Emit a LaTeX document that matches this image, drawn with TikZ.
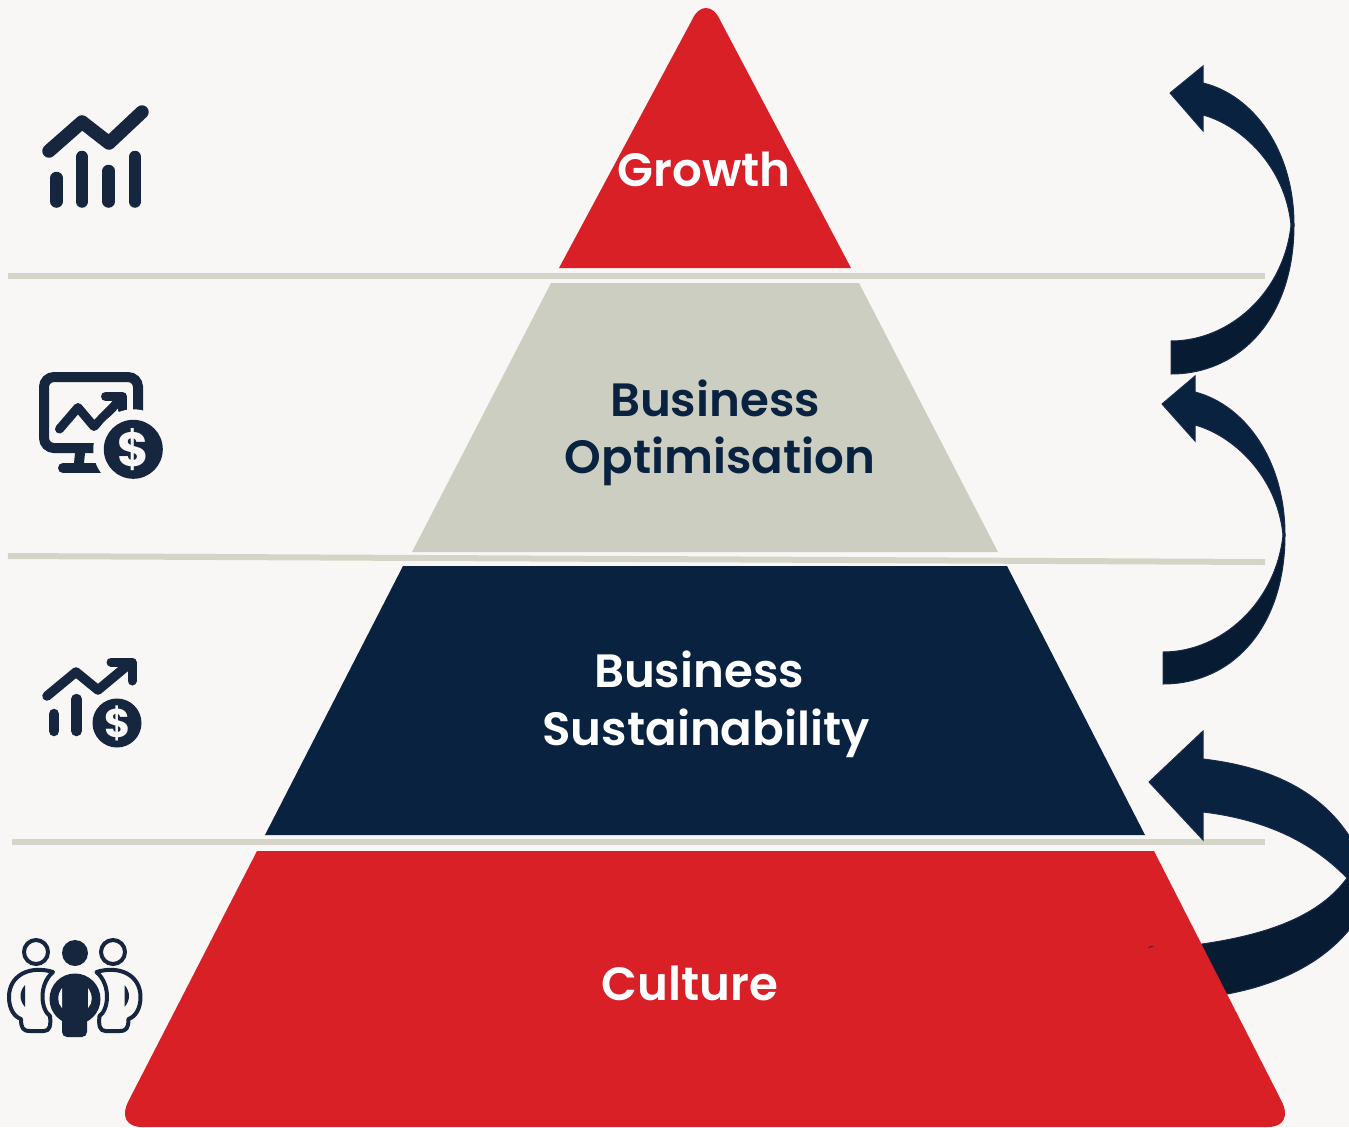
\documentclass[tikz,border=0pt]{standalone}
\usepackage{fontspec}
\setmainfont{Poppins}
\newfontfamily\labelfont{Poppins SemiBold}
\definecolor{bgc}{HTML}{F9F7F5}
\definecolor{redc}{HTML}{D92027}
\definecolor{stonec}{HTML}{CDCEC2}
\definecolor{navyc}{HTML}{092240}
\definecolor{darkc}{HTML}{071B33}
\definecolor{iconc}{HTML}{16263F}
\definecolor{rulec}{HTML}{D4D4C8}
\definecolor{edgec}{HTML}{1C2A4A}
\tikzset{
  rulefill/.style={draw=rulec,line width=6pt},
  lightlabel/.style={text=white,font=\fontsize{46.7}{46.7}\selectfont\labelfont,inner sep=0pt},
  darklabel/.style={text=navyc,font=\fontsize{46.7}{46.7}\selectfont\labelfont,inner sep=0pt},
  upperpart/.style={fill=navyc,draw=edgec,line width=1pt},
  lowerpart/.style={fill=darkc,draw=edgec,line width=1pt},
  iconline/.style={draw=iconc,line cap=round,line join=round},
  dollar/.style={text=bgc,inner sep=0pt},
}
\begin{document}
\begin{tikzpicture}[x=1pt,y=-1pt]
\useasboundingbox (0,0) rectangle (1349,1127);
\fill[bgc] (0,0) rectangle (1349,1127);
% rules
\draw[rulefill] (8,276) -- (1265,276);
\draw[rulefill] (8,556) -- (1265,562);
\draw[rulefill] (12,842) -- (1265,842);
% top arrow
\path[lowerpart] (1171,374) .. controls (1240,374) and (1294,318) .. (1294,225) -- (1291,225)
  .. controls (1284,292) and (1230,341) .. (1171,341) -- cycle;
\path[upperpart] (1170,93) -- (1203,66) -- (1203,83) .. controls (1253,95) and (1294,150) .. (1294,225)
  -- (1291,225) .. controls (1285,165) and (1240,125) .. (1203,115) -- (1203,131) -- cycle;
% middle arrow
\path[lowerpart] (1163,684) .. controls (1232,684) and (1285,628) .. (1285,535) -- (1283,535)
  .. controls (1276,602) and (1222,652) .. (1163,652) -- cycle;
\path[upperpart] (1162,404) -- (1195,376) -- (1195,392) .. controls (1245,405) and (1285,460) .. (1285,535)
  -- (1283,535) .. controls (1277,475) and (1232,435) .. (1195,425) -- (1195,441) -- cycle;
% bottom arrow
\path[lowerpart] (1347,878) .. controls (1320,915) and (1270,935) .. (1195,945) -- (1215,996)
  .. controls (1290,985) and (1350,950) .. (1372,890) -- cycle;
\path[upperpart] (1149,782) -- (1203,731) -- (1203,759) .. controls (1280,768) and (1350,800) .. (1372,890)
  -- (1347,878) .. controls (1315,845) and (1270,820) .. (1203,812) -- (1203,840) -- cycle;
% pyramid
\fill[redc] (559,268) -- (692,20) .. controls (699,4) and (713,4) .. (720,20) -- (851,268) -- cycle;
\fill[stonec] (551,283) -- (859,283) -- (998,552) -- (412,552) -- cycle;
\fill[navyc] (403,566) -- (1007,566) -- (1145,835) -- (265,835) -- cycle;
\fill[redc] (257,851) -- (1154,851) -- (1281,1100) .. controls (1290,1117) and (1283,1127) .. (1268,1127)
  -- (142,1127) .. controls (127,1127) and (120,1117) .. (129,1100) -- cycle;
\fill[darkc] (1148,948) -- (1154,946) -- (1150,946.5) -- cycle;
% labels
\node[lightlabel] (growth) at (704,169) {Growth};
\node[darklabel] (opt1) at (715,398.5) {Business};
\node[darklabel] (opt2) at (720,461) {Optimisation};
\node[lightlabel] (sus1) at (699,669.5) {Business};
\node[lightlabel] (sus2) at (706,733) {Sustainability};
\node[lightlabel] (cult) at (690,983) {Culture};
% icon 1
\draw[iconline,line width=13.5pt] (49,151) -- (82,122) -- (109,143) -- (142,112);
\foreach \bx/\bt in {56.5/178,82/157,108.7/171,135/157}
  \draw[iconline,line width=12.5pt] (\bx,\bt) -- (\bx,201.5);
% icon 2
\draw[draw=iconc,line width=10pt,rounded corners=10pt] (44,377) rectangle (138,448);
\fill[iconc] (75,453) -- (85,453) -- (84,463) -- (74,463) -- cycle;
\draw[iconline,line width=10pt] (63,468) -- (110,468);
\draw[iconline,line width=9pt] (59.5,429) -- (78,407.5) -- (94,426.5) -- (120,400);
\draw[iconline,line width=9pt] (105.5,396.5) -- (122.5,396.5) -- (122.5,410);
\fill[bgc] (133.3,449.3) circle (40);
\fill[iconc] (133.3,449.3) circle (29.5);
\node[dollar,font=\fontsize{48}{48}\selectfont\bfseries] (d1) at (133.3,450) {\$};
% icon 3
\draw[iconline,line width=9.5pt] (47,696) -- (76,672) -- (98,690) -- (128,665);
\draw[iconline,line width=9pt] (111,662) -- (132,662) -- (132,681);
\draw[iconline,line width=10.5pt] (54,714) -- (54,731);
\draw[iconline,line width=10.5pt] (76.5,699) -- (76.5,731);
\fill[iconc] (117,723) circle (24.5);
\node[dollar,font=\fontsize{40}{40}\selectfont\bfseries] (d2) at (118,723.5) {\$};
% icon 4
\draw[draw=iconc,line width=4pt] (36,952) circle (12);
\draw[draw=iconc,line width=4pt] (113,952) circle (12);
\fill[iconc] (75,953) circle (13);
\fill[iconc] (75,999) circle (25.5);
\fill[iconc,rounded corners=5pt] (62,1000) rectangle (87,1037);
\fill[bgc] (62,988) .. controls (57,995) and (57,1003) .. (62,1008) -- cycle;
\fill[bgc] (88,988) .. controls (93,995) and (93,1003) .. (88,1008) -- cycle;
\draw[draw=iconc,line width=4pt,line join=round]
  (53,972) .. controls (30,965) and (9,975) .. (9,997)
  .. controls (9,1010) and (15,1017) .. (21,1019)
  .. controls (21,1028) and (23,1031) .. (30,1031) -- (44,1031)
  .. controls (50,1031) and (51,1025) .. (50,1016)
  .. controls (41,1010) and (38,985) .. (53,972) -- cycle;
\draw[draw=iconc,line width=4pt,line join=round]
  (96.5,972) .. controls (119.5,965) and (140.5,975) .. (140.5,997)
  .. controls (140.5,1010) and (134.5,1017) .. (128.5,1019)
  .. controls (128.5,1028) and (126.5,1031) .. (119.5,1031) -- (105.5,1031)
  .. controls (99.5,1031) and (98.5,1025) .. (99.5,1016)
  .. controls (108.5,1010) and (111.5,985) .. (96.5,972) -- cycle;
\fill[iconc] (25,985) .. controls (19,992) and (19,1000) .. (25,1007) -- cycle;
\fill[iconc] (124.5,985) .. controls (130.5,992) and (130.5,1000) .. (124.5,1007) -- cycle;
\end{tikzpicture}
\end{document}
